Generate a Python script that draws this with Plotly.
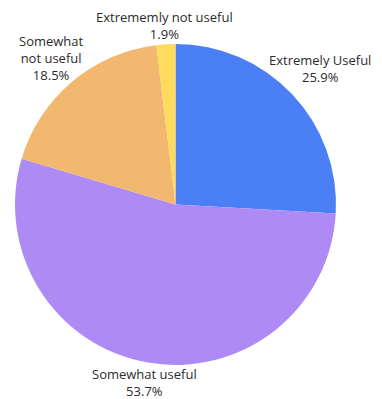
import math
import plotly.graph_objects as go

labels = ["Extremely Useful", "Somewhat useful", "Somewhat<br>not useful", "Extrememly not useful"]
values = [25.9, 53.7, 18.5, 1.9]
colors = ["#4A7FF6", "#AE8BF4", "#F2B870", "#FEDB5C"]

W, H = 382, 399
cx, cy, r = 175.5, 204.5, 160.5
# distance of each label's centre from the pie centre, as a multiple of the radius
label_dist = [1.235, 1.125, 1.195, 1.12]

fig = go.Figure(go.Pie(
    labels=labels,
    values=values,
    sort=False,
    direction="clockwise",
    rotation=0,
    marker=dict(colors=colors, line=dict(width=0)),
    textinfo="none",
    hoverinfo="label+percent",
    showlegend=False,
    domain=dict(x=[(cx - r) / W, (cx + r) / W], y=[1 - (cy + r) / H, 1 - (cy - r) / H]),
))

# outside labels placed along each slice's mid-angle
total = sum(values)
cum = 0.0
for lab, val, k in zip(labels, values, label_dist):
    mid = (cum + val / 2) / total * 2 * math.pi
    cum += val
    px = cx + k * r * math.sin(mid)
    py = cy - k * r * math.cos(mid)
    fig.add_annotation(
        x=px / W, y=1 - py / H, xref="paper", yref="paper",
        text=f"{lab}<br>{val / total * 100:.1f}%",
        showarrow=False, xanchor="center", yanchor="middle", align="center",
        borderpad=0, borderwidth=0,
        font=dict(family="Open Sans", size=13, color="#2b2b2b"),
    )

fig.update_layout(
    width=W, height=H,
    margin=dict(l=0, r=0, t=0, b=0),
    paper_bgcolor="white",
    plot_bgcolor="white",
)

fig.write_html("out.html")
